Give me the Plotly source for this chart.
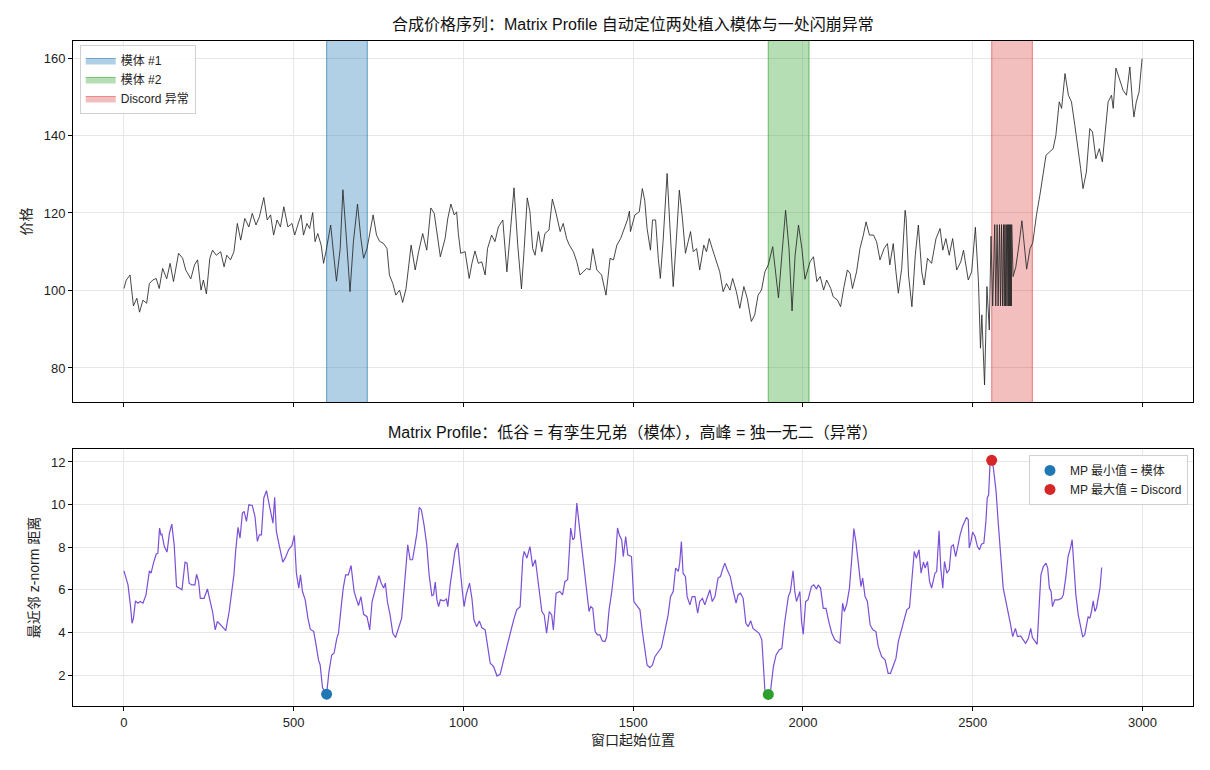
import plotly.graph_objects as go

# ---------------- data ----------------
price_idx = [0, 7, 18, 28, 38, 46, 56, 67, 75, 85, 95, 104, 114, 126, 136, 146, 161, 173, 182, 197,
             208, 217, 227, 234, 243, 253, 261, 272, 285, 295, 303, 314, 324, 334, 344, 356, 368, 378, 389, 399,
             412, 422, 432, 441, 451, 461, 471, 483, 495, 503, 515, 522, 529, 539, 547, 556, 563, 571, 581, 588,
             595, 601, 609, 618, 626, 637, 645, 656, 666, 676, 688, 698, 706, 716, 734, 744, 753, 765, 775, 782,
             792, 801, 812, 821, 831, 846, 858, 868, 880, 892, 904, 914, 922, 932, 946, 954, 963, 973, 980, 985,
             992, 1005, 1017, 1025, 1034, 1044, 1054, 1064, 1071, 1083, 1093, 1103, 1116, 1128, 1139, 1149, 1160, 1171, 1179, 1188,
             1196, 1204, 1211, 1221, 1231, 1240, 1252, 1262, 1273, 1285, 1294, 1304, 1312, 1324, 1334, 1343, 1353, 1363, 1373, 1381,
             1393, 1407, 1420, 1432, 1442, 1452, 1463, 1473, 1483, 1489, 1492, 1505, 1518, 1527, 1534, 1541, 1551, 1557, 1566, 1574,
             1580, 1588, 1596, 1600, 1608, 1618, 1628, 1636, 1645, 1654, 1662, 1669, 1677, 1687, 1696, 1708, 1716, 1724, 1733, 1743,
             1755, 1765, 1775, 1785, 1793, 1804, 1814, 1826, 1836, 1848, 1858, 1868, 1878, 1888, 1898, 1911, 1921, 1928, 1938, 1949,
             1959, 1968, 1977, 1987, 1997, 2006, 2021, 2031, 2041, 2051, 2061, 2070, 2082, 2089, 2102, 2111, 2121, 2131, 2139, 2146,
             2158, 2168, 2178, 2186, 2196, 2208, 2217, 2227, 2239, 2249, 2256, 2266, 2274, 2281, 2291, 2301, 2304, 2311, 2321, 2331,
             2340, 2350, 2357, 2367, 2379, 2392, 2404, 2412, 2421, 2431, 2441, 2453, 2465, 2473, 2487, 2497, 2508, 2517, 2523, 2527,
             2535, 2542, 2549, 2554, 2559, 2565, 2568, 2572, 2575, 2579, 2582, 2585, 2588, 2591, 2593, 2595, 2597, 2599, 2601, 2603,
             2605, 2606, 2608, 2609, 2611, 2612, 2614, 2615, 2619, 2627, 2637, 2645, 2659, 2669, 2677, 2688, 2698, 2708, 2716, 2727,
             2737, 2745, 2755, 2762, 2772, 2782, 2791, 2801, 2811, 2818, 2825, 2835, 2845, 2853, 2863, 2873, 2882, 2890, 2899, 2909,
             2914, 2922, 2931, 2943, 2953, 2963, 2971, 2975, 2982, 2990, 2999]
price_val = [100.5, 102.7, 104, 96, 98, 94.4, 97.5, 96.7, 101.8, 102.7, 103.1, 100.5, 105.7, 103, 107, 102.3, 109.6, 108.3, 105.3, 103,
             106.6, 107.9, 100.1, 102.7, 99.1, 108.3, 110.4, 109.1, 110, 106.1, 109.1, 107.9, 110, 117.3, 113, 118.6, 116.4, 119.9, 116.9, 119,
             124, 118.2, 119.5, 114.3, 118.2, 116.4, 121.6, 116.4, 117.3, 114.3, 117.7, 119.5, 114.3, 117.3, 116, 120.1, 112.6, 114.7, 111.7, 107,
             110, 112.6, 116.9, 109.1, 102.4, 110.8, 126, 112.6, 99.7, 112.6, 122.3, 113.4, 108.3, 110.8, 119.5, 114.3, 112.7, 112.1, 110.8, 104,
             101.8, 98.8, 100.1, 96.9, 100.5, 111.7, 105.3, 110, 114.7, 110.4, 121.3, 119.9, 114.3, 108.7, 113.4, 118.6, 122.3, 119.5, 120.3, 114.7,
             109.6, 110, 103.1, 107, 110.2, 107, 107.4, 104, 110.8, 114.3, 112.6, 116.4, 118.2, 104.8, 116, 126.5, 111.7, 100.4, 110.8, 123.9,
             120.3, 110.8, 109.1, 115.2, 110, 114.7, 115.6, 123.6, 119.9, 115.2, 117.3, 113.4, 111.7, 110, 107.4, 104, 104.8, 105.7, 105.3, 110.8,
             105.3, 104, 98.8, 108.3, 107.9, 111.7, 113.4, 116, 118.2, 120.5, 115.2, 119.5, 120.3, 126.3, 123.3, 116, 110.4, 118.2, 118.2, 108.3,
             103.1, 112.6, 126.3, 130.2, 116.9, 101, 114.3, 125.9, 118.6, 109.6, 112.6, 115.2, 110, 110.8, 105.3, 111.7, 110, 113.4, 110.8, 108.3,
             104.8, 99.7, 101.8, 100.1, 103.1, 99.7, 95.4, 101, 98, 92, 93.7, 98.8, 100.1, 104.8, 106.6, 111.3, 104, 98.1, 109.1, 120.7,
             110.8, 94.7, 109.1, 116.9, 110.8, 102.9, 107.4, 108.7, 102.3, 103.6, 100.1, 102.7, 100.5, 98.4, 97.5, 95.8, 101, 105.3, 104.4, 100.5,
             104.8, 110.8, 114.3, 117.7, 114.3, 114.3, 112.6, 107.9, 110.8, 112.1, 106.6, 112.1, 104.8, 99.3, 105.7, 120.7, 118.6, 104, 95.8, 109.1,
             116.9, 104.8, 101.4, 108.3, 107, 113.4, 116, 110.4, 113.4, 109.1, 113.4, 105.3, 107.4, 110.4, 102.7, 104.8, 116.3, 102.3, 85.1, 93.7,
             75.6, 101, 89.8, 114, 96, 117, 96, 117, 96, 117, 96, 117, 96, 117, 96, 117, 96, 117, 96, 117,
             96, 117, 96, 117, 96, 117, 96, 117, 103.6, 106, 112.2, 118, 105.5, 110.8, 112.3, 119.5, 124.6, 129.8, 134.9, 135.8,
             136.6, 140, 148.7, 147, 156, 150.4, 148.7, 142.6, 136.6, 131.5, 126.3, 130.6, 141.8, 140.9, 134, 136.6, 133.2, 141.4, 148.7, 150.4,
             147, 157.4, 154.7, 151.7, 150.4, 157.7, 148.2, 144.8, 148.7, 151.2, 159.8]

mp_idx = [0, 5, 12, 19, 24, 28, 34, 41, 48, 56, 65, 75, 80, 87, 95, 100, 105, 109, 112, 119,
          127, 134, 141, 148, 155, 163, 171, 180, 186, 192, 200, 209, 214, 220, 225, 236, 246, 253, 261, 269,
          275, 285, 292, 300, 310, 317, 324, 329, 336, 342, 349, 354, 361, 368, 378, 386, 393, 399, 405, 412,
          420, 427, 433, 439, 444, 449, 456, 464, 468, 476, 485, 495, 502, 508, 515, 520, 526, 534, 542, 549,
          559, 566, 573, 578, 585, 597, 604, 612, 619, 627, 632, 640, 646, 653, 661, 669, 678, 684, 691, 698,
          706, 716, 724, 731, 738, 746, 751, 758, 765, 770, 776, 784, 792, 800, 809, 818, 828, 836, 843, 850,
          856, 863, 870, 876, 884, 892, 899, 907, 912, 917, 922, 927, 932, 942, 950, 954, 961, 969, 975, 983,
          990, 997, 1002, 1008, 1018, 1025, 1031, 1039, 1047, 1054, 1064, 1071, 1079, 1089, 1099, 1108, 1118, 1128, 1138, 1148,
          1157, 1167, 1175, 1179, 1187, 1196, 1204, 1212, 1221, 1231, 1238, 1245, 1253, 1260, 1265, 1273, 1284, 1292, 1299, 1307,
          1316, 1322, 1327, 1334, 1341, 1349, 1355, 1363, 1370, 1375, 1381, 1388, 1395, 1402, 1409, 1417, 1422, 1429, 1437, 1447,
          1454, 1459, 1466, 1471, 1478, 1484, 1495, 1502, 1510, 1520, 1527, 1534, 1541, 1549, 1557, 1564, 1574, 1583, 1593, 1603,
          1610, 1618, 1625, 1633, 1637, 1642, 1647, 1654, 1659, 1667, 1674, 1682, 1690, 1696, 1704, 1711, 1716, 1726, 1733, 1741,
          1750, 1757, 1763, 1770, 1777, 1786, 1795, 1803, 1809, 1816, 1824, 1832, 1839, 1846, 1853, 1863, 1871, 1879, 1883, 1888,
          1898, 1905, 1913, 1921, 1930, 1938, 1946, 1957, 1963, 1971, 1976, 1981, 1991, 1996, 2001, 2008, 2015, 2025, 2032, 2040,
          2045, 2052, 2060, 2068, 2075, 2085, 2094, 2101, 2109, 2117, 2122, 2129, 2137, 2144, 2150, 2156, 2163, 2171, 2176, 2183,
          2190, 2198, 2206, 2215, 2222, 2232, 2242, 2251, 2258, 2266, 2274, 2281, 2288, 2296, 2306, 2314, 2321, 2328, 2334, 2342,
          2348, 2355, 2360, 2367, 2373, 2379, 2389, 2394, 2401, 2406, 2412, 2417, 2424, 2431, 2437, 2443, 2450, 2456, 2463, 2470,
          2476, 2482, 2487, 2490, 2495, 2500, 2507, 2514, 2520, 2526, 2533, 2539, 2543, 2547, 2551, 2556, 2561, 2569, 2575, 2582,
          2590, 2598, 2605, 2610, 2618, 2626, 2632, 2641, 2649, 2656, 2664, 2671, 2676, 2683, 2690, 2696, 2701, 2708, 2716, 2721,
          2726, 2731, 2735, 2742, 2752, 2762, 2767, 2774, 2781, 2788, 2793, 2799, 2804, 2811, 2818, 2824, 2830, 2835, 2840, 2845,
          2850, 2855, 2860, 2865, 2870, 2875, 2880]
mp_val = [6.89, 6.62, 6.23, 5.29, 4.43, 4.66, 5.48, 5.37, 5.45, 5.37, 5.76, 6.89, 6.78, 7.25, 7.67, 7.72, 8.9, 8.58, 8.61, 8.03,
          7.77, 8.66, 9.08, 8.11, 6.15, 6.08, 6.0, 7.3, 7.25, 6.31, 6.23, 6.23, 6.73, 6.39, 5.6, 5.6, 6.04, 5.53, 4.98, 4.12,
          4.51, 4.35, 4.23, 4.08, 4.98, 5.92, 6.7, 7.8, 8.93, 8.43, 9.6, 9.68, 9.21, 9.99, 9.96, 9.45, 8.27, 8.58, 8.58, 10.31,
          10.65, 10.07, 9.52, 9.13, 10.34, 8.74, 8.19, 7.64, 7.3, 7.52, 7.88, 8.08, 8.55, 6.78, 6.08, 6.7, 5.92, 5.53, 4.66, 4.15,
          4.04, 3.41, 2.71, 2.47, 1.4, 1.1, 2.16, 2.94, 3.02, 3.72, 3.96, 5.21, 6.08, 6.7, 6.7, 7.14, 5.92, 5.6, 5.26, 5.68,
          4.85, 4.74, 4.12, 5.45, 5.92, 6.39, 6.66, 6.31, 6.08, 6.31, 5.45, 4.82, 3.96, 3.76, 4.27, 4.66, 6.55, 8.11, 7.41, 7.41,
          7.96, 8.66, 9.87, 9.76, 9.05, 8.11, 6.7, 5.73, 5.76, 6.36, 5.53, 5.21, 5.53, 5.48, 5.57, 5.21, 6.23, 7.17, 7.8, 8.19,
          6.86, 5.92, 5.21, 5.76, 6.31, 5.6, 4.59, 4.27, 4.54, 4.23, 4.12, 3.33, 2.55, 2.39, 1.95, 2.03, 2.63, 3.25, 3.96, 4.59,
          5.06, 5.21, 7.49, 7.8, 7.49, 8.03, 7.09, 7.41, 6.23, 4.98, 4.82, 3.96, 4.98, 4.82, 4.12, 5.84, 5.92, 5.76, 6.39, 6.47,
          8.9, 8.35, 8.43, 10.07, 9.05, 7.96, 7.02, 5.92, 4.98, 5.21, 5.13, 4.04, 3.88, 3.88, 3.6, 3.57, 3.8, 5.06, 5.92, 7.33,
          8.9, 8.58, 8.35, 7.56, 8.5, 7.64, 7.56, 5.45, 5.29, 5.06, 4.04, 3.18, 2.47, 2.34, 2.47, 2.86, 3.07, 3.29, 4.04, 4.82,
          5.68, 5.92, 7.02, 6.86, 7.25, 8.27, 6.78, 6.62, 5.68, 5.29, 5.68, 5.68, 4.9, 5.45, 5.6, 5.29, 5.53, 6.0, 5.45, 5.68,
          6.55, 6.62, 6.94, 7.25, 6.94, 6.62, 5.92, 5.37, 5.76, 5.84, 5.6, 4.43, 4.27, 4.55, 4.19, 4.08, 3.96, 3.65, 2.31, 1.3,
          1.09, 1.3, 2.39, 2.94, 3.18, 3.25, 4.43, 5.68, 5.92, 6.89, 5.92, 5.45, 5.92, 4.51, 3.91, 5.45, 5.53, 6.15, 6.23, 6.04,
          6.23, 6.08, 5.13, 5.13, 4.59, 3.96, 3.65, 3.57, 3.49, 5.37, 4.98, 5.32, 6.08, 7.49, 8.87, 8.27, 7.17, 6.15, 6.55, 5.68,
          5.45, 4.35, 4.12, 4.04, 3.33, 2.86, 2.71, 2.08, 2.08, 2.47, 2.78, 3.57, 3.96, 4.4, 5.06, 5.17, 6.55, 7.8, 7.49, 7.88,
          6.78, 7.3, 7.02, 7.33, 6.39, 6.08, 6.78, 6.86, 8.77, 7.02, 6.08, 7.33, 6.78, 6.94, 8.03, 8.11, 7.56, 8.11, 8.58, 8.97,
          9.21, 9.4, 9.29, 7.96, 8.27, 8.71, 8.5, 8.03, 7.88, 8.14, 8.19, 9.21, 10.31, 10.46, 11.87, 12.08, 11.72, 10.62, 9.21, 7.8,
          6.08, 5.45, 4.98, 4.51, 3.8, 4.19, 3.8, 3.83, 3.65, 3.49, 3.72, 4.19, 3.76, 3.57, 3.44, 5.29, 6.7, 7.09, 7.25, 7.02,
          6.08, 5.92, 5.21, 5.53, 5.53, 5.6, 5.76, 6.55, 7.56, 7.96, 8.35, 6.94, 5.76, 4.82, 4.35, 3.8, 3.88, 4.35, 4.74, 4.66,
          4.98, 5.48, 4.98, 5.17, 5.6, 6.08, 7.05]

window_len = 120
motif_starts = [597, 1898]      # motif pair (MP minima)
band_labels = ["模体 #1", "模体 #2", "Discord 异常"]

# ---------------- derived ----------------
discord_pos = mp_idx[mp_val.index(max(mp_val))]
band_starts = motif_starts + [discord_pos]
band_fill = ["rgba(31,119,180,0.35)", "rgba(44,160,44,0.35)", "rgba(214,39,40,0.30)"]
band_edge = ["rgba(31,119,180,0.55)", "rgba(44,160,44,0.55)", "rgba(214,39,40,0.45)"]

FONT = "Liberation Sans, Noto Sans CJK SC, sans-serif"
fig = go.Figure()

Y0, Y1 = 71.2, 164.4
for s, lab, fc, ec in zip(band_starts, band_labels, band_fill, band_edge):
    e = s + window_len
    fig.add_trace(go.Scatter(
        x=[s, e, e, s, s], y=[Y0 - 50, Y0 - 50, Y1 + 50, Y1 + 50, Y0 - 50],
        mode="lines", fill="toself", fillcolor=fc, line=dict(color=ec, width=1.2),
        name=lab, legend="legend", xaxis="x", yaxis="y", hoverinfo="skip"))

fig.add_trace(go.Scatter(x=price_idx, y=price_val, mode="lines",
                         line=dict(color="rgba(40,40,40,0.85)", width=1),
                         showlegend=False, xaxis="x", yaxis="y"))

fig.add_trace(go.Scatter(x=mp_idx, y=mp_val, mode="lines",
                         line=dict(color="#7b4fd6", width=1.2),
                         showlegend=False, xaxis="x2", yaxis="y2"))

m1y = mp_val[mp_idx.index(motif_starts[0])]
m2y = mp_val[mp_idx.index(motif_starts[1])]
dy = max(mp_val)
fig.add_trace(go.Scatter(x=[motif_starts[0]], y=[m1y], mode="markers",
                         marker=dict(color="#1f77b4", size=11), name="MP 最小值 = 模体",
                         legend="legend2", xaxis="x2", yaxis="y2"))
fig.add_trace(go.Scatter(x=[motif_starts[1]], y=[m2y], mode="markers",
                         marker=dict(color="#2ca02c", size=11), showlegend=False,
                         xaxis="x2", yaxis="y2"))
fig.add_trace(go.Scatter(x=[discord_pos], y=[dy], mode="markers",
                         marker=dict(color="#d62728", size=11), name="MP 最大值 = Discord",
                         legend="legend2", xaxis="x2", yaxis="y2"))

axis_common = dict(showline=True, mirror=True, linecolor="black", linewidth=1,
                   ticks="outside", ticklen=4, tickcolor="black",
                   showgrid=True, gridcolor="#e6e6e6", gridwidth=1, zeroline=False,
                   tickfont=dict(size=13, color="#222"))

XR = [-150, 3149]
fig.update_layout(
    width=1210, height=770,
    margin=dict(l=73, r=17, t=41, b=64),
    plot_bgcolor="white", paper_bgcolor="white",
    font=dict(family=FONT, size=13, color="#222"),
    xaxis=dict(domain=[0, 1], anchor="y", range=XR, tickvals=[0, 500, 1000, 1500, 2000, 2500, 3000],
               showticklabels=False, **axis_common),
    yaxis=dict(domain=[0.4571, 1], anchor="x", range=[Y0, Y1], tickvals=[80, 100, 120, 140, 160],
               title=dict(text="价格", font=dict(size=14), standoff=8), **axis_common),
    xaxis2=dict(domain=[0, 1], anchor="y2", range=XR, tickvals=[0, 500, 1000, 1500, 2000, 2500, 3000],
                title=dict(text="窗口起始位置", font=dict(size=14), standoff=6), **axis_common),
    yaxis2=dict(domain=[0, 0.3865], anchor="x2", range=[0.545, 12.61], tickvals=[2, 4, 6, 8, 10, 12],
                title=dict(text="最近邻 z-norm 距离", font=dict(size=14), standoff=8), **axis_common),
    legend=dict(x=0.006, y=0.994, xanchor="left", yanchor="top", bgcolor="rgba(255,255,255,0.85)",
                bordercolor="#d0d0d0", borderwidth=1, font=dict(size=12), tracegroupgap=0,
                itemwidth=30),
    legend2=dict(x=0.9955, y=0.3775, xanchor="right", yanchor="top", bgcolor="rgba(255,255,255,0.85)",
                 bordercolor="#d0d0d0", borderwidth=1, font=dict(size=12), itemwidth=30),
    annotations=[
        dict(text="合成价格序列：Matrix Profile 自动定位两处植入模体与一处闪崩异常", x=0.5, y=1, xref="paper",
             yref="paper", xanchor="center", yanchor="bottom", yshift=6, showarrow=False,
             font=dict(size=16, color="#111")),
        dict(text="Matrix Profile：低谷 = 有孪生兄弟（模体），高峰 = 独一无二（异常）", x=0.5, y=0.3865,
             xref="paper", yref="paper", xanchor="center", yanchor="bottom", yshift=6, showarrow=False,
             font=dict(size=16, color="#111")),
    ],
)

fig.write_html("out.html")
